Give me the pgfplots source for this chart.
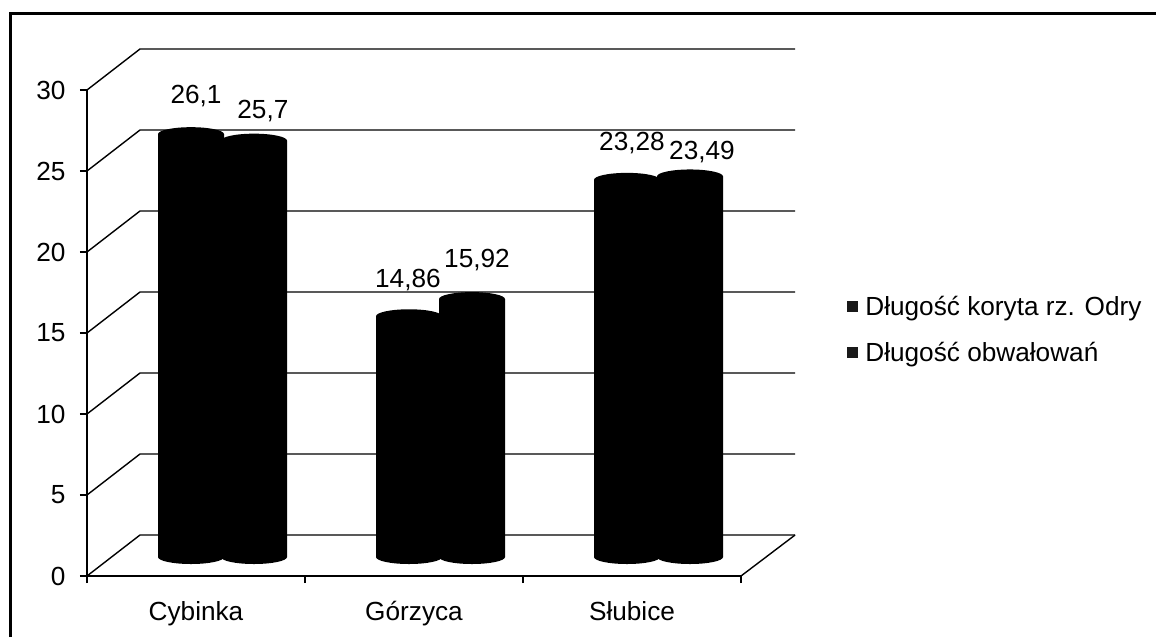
\documentclass[border=0pt]{standalone}
\usepackage{pgfplots}
\usepackage{fontspec}
\setmainfont{Liberation Sans}
\pgfplotsset{compat=1.18}
\pgfdeclareplotmark{cylcap}{%
  \pgfpathellipse{\pgfpointorigin}{\pgfqpoint{33pt}{0pt}}{\pgfqpoint{0pt}{7pt}}%
  \pgfusepathqfill}
\newcommand{\labfont}{\fontsize{26.2}{30}\selectfont}
\begin{document}
\begin{tikzpicture}[x=1pt,y=1pt]
  \path[use as bounding box] (0,0) rectangle (1156,-637);
  \draw[line width=3pt,black] (10,-637) -- (10,-13) -- (1156,-13);
  \begin{axis}[
    at={(87pt,-576pt)}, anchor=south west,
    scale only axis, width=654pt, height=486pt,
    xmin=-0.5, xmax=2.5, ymin=0, ymax=30,
    clip=false,
    axis x line=bottom, axis y line=left,
    axis line style={-, line width=1.4pt},
    every tick/.style={black, line width=1.4pt},
    tick align=outside, major tick length=7pt,
    xtick={-0.5,0.5,1.5,2.5},
    x tick label as interval=true,
    xticklabels={Cybinka,Górzyca,Słubice},
    ytick={0,5,10,15,20,25,30},
    tick label style={font=\labfont},
    x tick label style={yshift=-15pt},
    y tick label style={xshift=-11pt},
    /pgf/number format/assume math mode=true,
    legend style={draw=none, fill=none,
      font=\labfont, row sep=21.5pt, inner sep=0pt, anchor=north west,
      at={(axis cs:2.987,17.42)}},
    legend cell align=left,
    legend image code/.code={\fill[black!90, draw=none] (0cm,-5.5pt) rectangle (11pt,5.5pt); \path[draw=none] (0pt,0pt) -- (16pt,0pt);},
  ]
    % walls: front edge, back edge, one polyline per gridline
    \foreach \v in {0,5,10,15,20,25,30} {
      \addplot[black, line width=1.4pt, forget plot] coordinates {
        (-0.5,\v) (-0.257,\v+2.53) (2.748,\v+2.53)};
    }
    \addplot[black, line width=1.4pt, forget plot] coordinates {(2.5,0) (2.748,2.53)};

    % series 1
    \addplot[ybar, bar width=66pt, bar shift=-5pt, yshift=19pt, draw=none, shade, shading=axis,
      left color=black, middle color=black!88, right color=black, forget plot]
      coordinates {(0,26.1) (1,14.86) (2,23.28)};
    \addplot[only marks, mark=cylcap, black, xshift=-5pt, yshift=19pt, forget plot]
      coordinates {(0,26.1) (1,14.86) (2,23.28) (0,0) (1,0) (2,0)};
    % series 2
    \addplot[ybar, bar width=66pt, bar shift=58pt, yshift=19pt, draw=none, shade, shading=axis,
      left color=black, middle color=black!88, right color=black, forget plot]
      coordinates {(0,25.7) (1,15.92) (2,23.49)};
    \addplot[only marks, mark=cylcap, black, xshift=58pt, yshift=19pt, forget plot]
      coordinates {(0,25.7) (1,15.92) (2,23.49) (0,0) (1,0) (2,0)};

    \addlegendimage{black}
    \addlegendentry{Długość koryta rz. Odry}
    \addlegendimage{black}
    \addlegendentry{Długość obwałowań}

    \node[font=\labfont] at (axis cs:0,29.63) {26,1};
    \node[font=\labfont] at (axis cs:0.307,28.73) {25,7};
    \node[font=\labfont] at (axis cs:0.972,18.30) {14,86};
    \node[font=\labfont] at (axis cs:1.289,19.51) {15,92};
    \node[font=\labfont] at (axis cs:2,26.73) {23,28};
    \node[font=\labfont] at (axis cs:2.321,26.20) {23,49};
  \end{axis}
\end{tikzpicture}
\end{document}
